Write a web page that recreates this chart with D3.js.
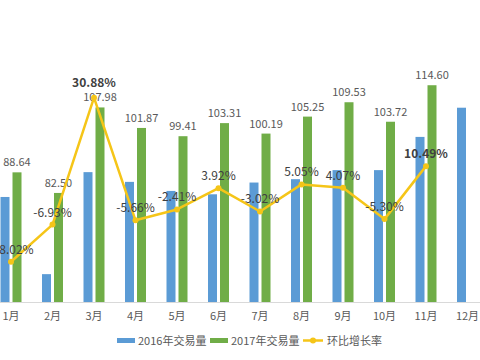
<!DOCTYPE html>
<html><head><meta charset="utf-8">
<script src="https://cdn.jsdelivr.net/npm/d3@7/dist/d3.min.js"></script>
<style>
html,body{margin:0;padding:0;background:#fff;}
svg{display:block;font-family:"Noto Sans CJK SC","Microsoft YaHei",sans-serif;}
</style></head>
<body>
<svg id="c" width="480" height="360"></svg>
<script>
const months = ["1月","2月","3月","4月","5月","6月","7月","8月","9月","10月","11月","12月"];
const vol2016 = [81.3, 58.3, 88.7, 85.8, 83.1, 82.1, 85.6, 86.6, 89.3, 89.3, 99.2, 107.9];
const vol2017 = [88.64, 82.50, 107.98, 101.87, 99.41, 103.31, 100.19, 105.25, 109.53, 103.72, 114.60, null];
const growth = [-18.02, -6.93, 30.88, -5.66, -2.41, 3.92, -3.02, 5.05, 4.07, -5.30, 10.49];
const seriesNames = ["2016年交易量","2017年交易量","环比增长率"];
const colors = {b:"#5B9BD5", g:"#70AD47", l:"#F5C518"};

const svg = d3.select("#c");
const baseY = 302;
const x0 = d3.scaleBand().domain(months).range([-9.75, 488.25]).paddingInner(0).paddingOuter(0);
const x1 = d3.scaleBand().domain(["2016","2017"]).range([10.25, 31.25]).paddingInner(0.25).paddingOuter(0);
const y = d3.scaleLinear().domain([50, 140]).range([baseY, 0]);
const y2 = d3.scaleLinear().domain([-30, 60]).range([baseY, 0]);

// bars
const g = svg.append("g");
months.forEach((m, i) => {
  const gx = x0(m);
  g.append("rect").attr("x", gx + x1("2016")).attr("width", x1.bandwidth())
    .attr("y", y(vol2016[i])).attr("height", baseY - y(vol2016[i])).attr("fill", colors.b);
  if (vol2017[i] != null) {
    g.append("rect").attr("x", gx + x1("2017")).attr("width", x1.bandwidth())
      .attr("y", y(vol2017[i])).attr("height", baseY - y(vol2017[i])).attr("fill", colors.g);
    g.append("text").attr("x", gx + x1("2017") + x1.bandwidth()/2).attr("y", y(vol2017[i]) - 6)
      .attr("text-anchor","middle").attr("font-size", 11).attr("fill","#595959")
      .text(vol2017[i].toFixed(2));
  }
});

// axis
const xAxis = d3.axisBottom(x0).tickSize(0).tickPadding(10);
const ax = svg.append("g").attr("transform", `translate(0,${baseY})`).call(xAxis);
ax.select(".domain").attr("stroke","#d9d9d9");
ax.selectAll("text").attr("font-size", 11).attr("fill","#595959").attr("font-family","Noto Sans CJK SC");

// line
const cx = (i) => x0(months[i]) + x0.bandwidth()/2;
const line = d3.line().x((d,i) => cx(i)).y(d => y2(d));
svg.append("path").datum(growth).attr("d", line).attr("fill","none")
  .attr("stroke", colors.l).attr("stroke-width", 2.5).attr("stroke-linejoin","round");
svg.selectAll("circle.pt").data(growth).enter().append("circle")
  .attr("cx", (d,i) => cx(i)).attr("cy", d => y2(d)).attr("r", 3).attr("fill", colors.l);
svg.selectAll("text.gl").data(growth).enter().append("text")
  .attr("x", (d,i) => cx(i)).attr("y", (d,i) => y2(d) - (i === 2 ? 11 : 8))
  .attr("text-anchor","middle").attr("font-size", 12)
  .attr("font-weight", (d,i) => (i === 2 || i === 10) ? 700 : 400)
  .attr("fill","#404040").text(d => d.toFixed(2) + "%");

// legend
const lg = svg.append("g").attr("font-size", 11).attr("fill","#595959");
lg.append("rect").attr("x",117).attr("y",338).attr("width",18).attr("height",5).attr("fill",colors.b);
lg.append("text").attr("x",138).attr("y",344.5).text(seriesNames[0]);
lg.append("rect").attr("x",210).attr("y",338).attr("width",18).attr("height",5).attr("fill",colors.g);
lg.append("text").attr("x",231).attr("y",344.5).text(seriesNames[1]);
lg.append("line").attr("x1",303).attr("x2",323).attr("y1",340.5).attr("y2",340.5).attr("stroke",colors.l).attr("stroke-width",2.5);
lg.append("circle").attr("cx",313).attr("cy",340.5).attr("r",3).attr("fill",colors.l);
lg.append("text").attr("x",327).attr("y",344.5).text(seriesNames[2]);
</script>
</body></html>
